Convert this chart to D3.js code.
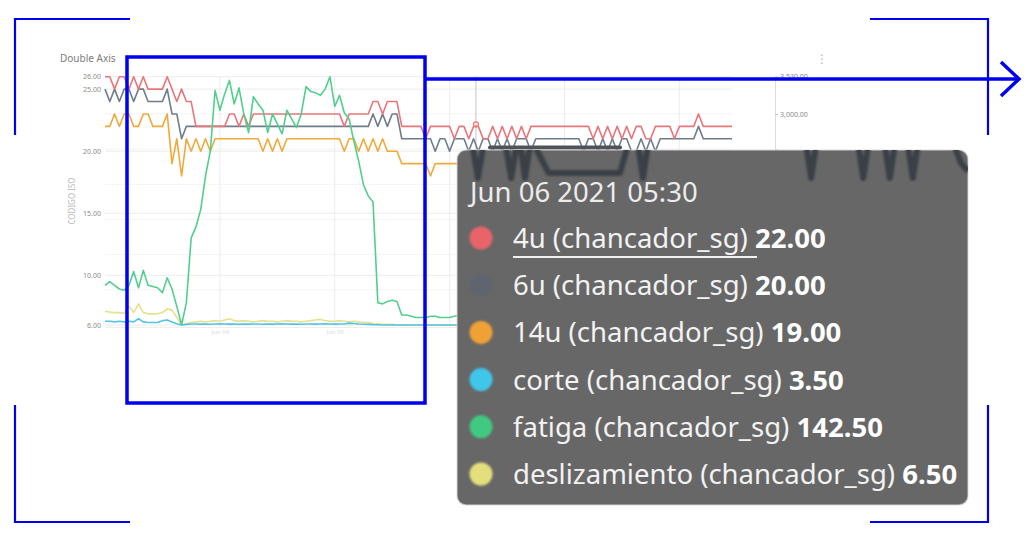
<!DOCTYPE html>
<html>
<head>
<meta charset="utf-8">
<script src="https://cdn.jsdelivr.net/npm/d3@7"></script>
<style>
  html, body { margin: 0; padding: 0; background: #fff; }
  svg { display: block; font-family: "Noto Sans", sans-serif; }
</style>
</head>
<body>
<svg id="chart" width="1024" height="537"></svg>
<script>
// ---- data (hourly samples from Jun 03 2021 00:00) ----
const startTime = new Date(2021, 5, 3, 0, 0);
const endTime   = new Date(2021, 5, 8, 11, 0);
const hoverTime = new Date(2021, 5, 6, 5, 30);

const leftTicks  = [6, 10, 15, 20, 25, 26];
const rightTicks = [0, 500, 1000, 1500, 2000, 2500, 3000, 3530];

const series4u = [
  26,26,25,26,26,25,26,25,26,25, 25,25,25,26,25,24,25,24,24,22,
  22,22,22,22,22,22,23,23,22,23, 22,23,23,23,23,23,23,23,23,23,
  23,23,23,23,23,23,23,23,23,23, 22,23,23,23,23,23,24,24,23,24,
  24,24,22,22,22,22,22,21,22,22, 22,22,22,21,22,22,21,22,22,21,
  21,22,21,22,21,22,21,22,21,22, 22,22,22,22,22,22,22,22,22,22,
  22,22,21,22,21,22,21,22,21,22, 21,22,22,21,21,22,22,22,22,21,
  22,22,22,22,23,22,22,22,22,22, 22,22
];
const series6u = [
  25,24,25,24,25,25,24,25,25,24, 24,24,24,25,23,23,21,22,22,22,
  22,22,22,22,22,22,22,22,22,22, 22,22,22,22,22,22,22,22,22,22,
  22,22,22,22,22,22,22,22,22,22, 22,22,22,22,22,22,23,22,23,22,
  23,23,21,21,21,21,21,21,21,20, 21,21,20,21,21,21,20,21,20,21,
  21,20,21,20,21,20,21,21,21,20, 21,21,21,21,21,21,21,21,21,21,
  20,21,21,20,21,20,21,20,21,21, 20,20,21,20,21,20,21,21,21,21,
  21,21,21,21,22,21,21,21,21,21, 21,21
];
const series14u = [
  22,22,23,22,23,23,22,22,23,23, 22,22,22,23,19,21,18,21,20,21,
  20,21,20,21,21,21,21,21,21,21, 21,21,21,20,21,20,21,20,21,21,
  21,21,21,21,21,21,21,21,21,21, 20,21,21,20,21,20,21,20,21,20,
  20,20,19,19,19,19,19,19,18,19, 19,19,19,19,19,19,19,19,19,19,
  19,19,19,19,19,19,19,19,19,19, 19,19,19,19,19,19,19,19,19,19,
  19,19,19,19,19,19,19,19,19,19, 19,19,19,19,19,19,19,19,19,19,
  19,19,19,19,19,19,19,19,19,19, 19,19
];
const seriesCorte = [
  6.3,6.3,6.25,6.3,6.25,6.3,6.25,6.5,6.25,6.2, 6.2,6.2,6.35,6.4,6.25,6.1,6.0,6.05,6.08,6.08,
  6.07,6.08,6.06,6.08,6.1,6.08,6.07,6.08,6.06,6.08, 6.07,6.08,6.08,6.06,6.08,6.07,6.08,6.1,6.08,6.07,
  6.08,6.06,6.08,6.08,6.07,6.08,6.1,6.08,6.07,6.08, 6.08,6.15,6.12,6.08,6.06,6.05,6.03,6.02,6.0,6.0,
  6.0,6.0,6.0,6.0,6.0,6.0,6.0,6.0,6.0,6.0, 6.0,6.0,6.0,6.0,6.0,6.0,6.0,6.0,6.0,6.0,
  6.0,6.0,6.0,6.0,6.0,6.0,6.0,6.0,6.0,6.0, 6.0,6.0,6.0,6.0,6.0,6.0,6.0,6.0,6.0,6.0,
  6.0,6.0,6.0,6.0,6.0,6.0,6.0,6.0,6.0,6.0, 6.0,6.0,6.0,6.0,6.0,6.0,6.0,6.0,6.0,6.0,
  6.0,6.0,6.0,6.0,6.0,6.0,6.0,6.0,6.0,6.0, 6.0,6.0
];
const seriesFatiga = [
  9.2,9.5,9.2,8.9,8.8,9.2,10.3,9.0,10.4,9.2, 9.1,9.0,8.6,9.8,8.9,7.5,6.0,7.8,13.0,13.9,
  15.3,18.0,20.0,24.9,23.3,24.6,25.7,23.8,25.1,23.0, 21.5,24.4,23.8,23.3,21.5,23.0,22.2,21.4,23.3,22.6,
  21.9,23.0,25.2,24.8,24.7,24.5,25.0,26.0,23.6,24.5, 23.1,22.6,20.8,19.2,17.3,16.4,15.9,7.8,7.7,7.9,
  8.0,7.9,6.8,6.8,6.7,6.6,6.6,6.6,6.7,6.7, 6.6,6.6,6.6,6.7,6.8,6.9,6.8,6.7,6.8,6.9,
  7.0,6.9,6.8,6.8,6.7,6.8,6.9,6.9,6.8,6.7, 6.7,6.8,6.8,6.9,7.0,6.9,6.8,6.8,6.7,6.7,
  6.8,6.9,6.9,6.8,6.7,6.7,6.8,6.9,7.0,6.9, 6.8,6.8,6.7,6.7,6.8,6.8,6.9,6.8,6.7,6.7,
  6.8,6.8,6.9,6.9,6.8,6.7,6.8,6.8,6.7,6.7, 6.8,6.8
];
const seriesDesliz = [
  7.1,7.05,7.0,7.0,6.95,7.5,7.0,7.7,7.0,6.9, 6.9,6.9,7.0,7.3,7.2,6.6,6.0,6.1,6.2,6.25,
  6.3,6.25,6.3,6.35,6.3,6.4,6.5,6.35,6.3,6.35, 6.3,6.25,6.3,6.35,6.3,6.3,6.25,6.3,6.35,6.3,
  6.3,6.25,6.3,6.35,6.4,6.45,6.35,6.3,6.3,6.35, 6.3,6.25,6.3,6.25,6.2,6.2,6.1,6.1,6.05,6.05,
  6.05,6.0,6.0,6.02,6.0,6.0,6.02,6.0,6.0,6.0, 6.0,6.02,6.0,6.0,6.0,6.02,6.0,6.0,6.0,6.0,
  6.02,6.0,6.0,6.0,6.0,6.02,6.0,6.0,6.0,6.0, 6.0,6.02,6.0,6.0,6.0,6.0,6.02,6.0,6.0,6.0,
  6.0,6.0,6.02,6.0,6.0,6.0,6.0,6.02,6.0,6.0, 6.0,6.0,6.0,6.02,6.0,6.0,6.0,6.0,6.02,6.0,
  6.0,6.0,6.0,6.0,6.02,6.0,6.0,6.0,6.0,6.0, 6.0,6.0
];

const seriesList = [
  { name: "deslizamiento", values: seriesDesliz, color: "#e4e28c" },
  { name: "corte",         values: seriesCorte,  color: "#52c4e6" },
  { name: "14u",           values: series14u,    color: "#f0aa3c" },
  { name: "6u",            values: series6u,     color: "#6f7c89" },
  { name: "4u",            values: series4u,     color: "#e8777b" },
  { name: "fatiga",        values: seriesFatiga, color: "#52cf8e" }
];

// tooltip content
const tooltipTitle  = "Jun 06 2021 05:30";
const tooltipLabels = ["4u (chancador_sg)", "6u (chancador_sg)", "14u (chancador_sg)",
                       "corte (chancador_sg)", "fatiga (chancador_sg)", "deslizamiento (chancador_sg)"];
const tooltipValues = [22.00, 20.00, 19.00, 3.50, 142.50, 6.50];
const tooltipColors = ["#e9646b", "#5a6072", "#f0a136", "#40c6ea", "#41c980", "#e2df7c"];

// dark magnified trace seen at the top of the tooltip: [position 0-100, level 0-1]
const ghostTrace = [
  [0,1],[3,1],[4.1,0],[5.2,1],[9.5,1],[10.6,0],[11.7,1],[12.4,1],[13.3,0],[14.3,1],
  [15,1],[17.9,0.15],[31.9,0.15],[33.5,1],[35.4,1],[36.4,0],[37.4,1],
  [68.3,1],[69.3,0],[70.3,1],[78.5,1],[79.5,0],[80.5,1],[83.7,1],[84.7,0],[85.7,1],
  [88.2,1],[89.2,0],[90.2,1],[97.2,1],[98.6,0.45],[100,0.2]
];

// ---- chart ----
const svg = d3.select("#chart");

const x = d3.scaleTime().domain([startTime, endTime]).range([105, 732]);
const yLeft  = d3.scaleLinear().domain([6, 26]).range([325, 76.7]);
const yRight = d3.scaleLinear().domain([0, 3530]).range([325, 76.7]);
const times = series4u.map((d, i) => d3.timeHour.offset(startTime, i));
const dayTicks = d3.timeDay.range(d3.timeDay.offset(startTime, 1), endTime);

const tip = { x: 457, y: 150, w: 511, h: 355 };

// title
svg.append("text")
  .attr("x", 60).attr("y", 62)
  .attr("font-size", 10).attr("fill", "#7d7d7d")
  .text("Double Axis");

// kebab menu
svg.append("text")
  .attr("x", 822).attr("y", 63)
  .attr("text-anchor", "middle")
  .attr("font-size", 12).attr("fill", "#b0b0b0")
  .attr("font-family", "DejaVu Sans")
  .text("\u22EE");

// grid
const grid = svg.append("g");
grid.selectAll("line.gl")
  .data(leftTicks)
  .join("line")
    .attr("class", "gl")
    .attr("x1", 105).attr("x2", 732)
    .attr("y1", d => yLeft(d)).attr("y2", d => yLeft(d))
    .attr("stroke", "#ececec");
grid.selectAll("line.gr")
  .data(rightTicks.filter(d => d > 0 && d < 3530))
  .join("line")
    .attr("class", "gr")
    .attr("x1", 105).attr("x2", 732)
    .attr("y1", d => yRight(d)).attr("y2", d => yRight(d))
    .attr("stroke", "#f4f4f4");
grid.selectAll("line.gv")
  .data(dayTicks)
  .join("line")
    .attr("class", "gv")
    .attr("x1", d => x(d)).attr("x2", d => x(d))
    .attr("y1", 76.7).attr("y2", 327)
    .attr("stroke", "#ececec");

// left axis
const leftAxis = svg.append("g")
  .attr("transform", "translate(104,0)")
  .call(d3.axisLeft(yLeft).tickValues(leftTicks).tickFormat(d3.format(",.2f")).tickSize(0).tickPadding(3));
leftAxis.select(".domain").remove();
leftAxis.selectAll("text").attr("font-size", 7).attr("fill", "#8a8a8a").attr("font-family", "Noto Sans");

svg.append("text")
  .attr("transform", "translate(75,201) rotate(-90)")
  .attr("text-anchor", "middle")
  .attr("font-size", 8).attr("fill", "#b8b8b8")
  .text("CODIGO ISO");

// right axis (labels hidden under the tooltip are not drawn)
const rightAxis = svg.append("g")
  .attr("transform", "translate(775,0)")
  .call(d3.axisRight(yRight).tickValues(rightTicks)
    .tickFormat(d => yRight(d) < tip.y - 20 ? d3.format(",.2f")(d) : "")
    .tickSize(3).tickPadding(2));
rightAxis.select(".domain").attr("stroke", "#dcdcdc");
rightAxis.selectAll(".tick line").attr("stroke", "#c8c8c8");
rightAxis.selectAll("text").attr("font-size", 7).attr("fill", "#8a8a8a").attr("font-family", "Noto Sans");

// bottom axis labels (faint), only where not covered by the tooltip
const bottomAxis = svg.append("g")
  .attr("transform", "translate(0,327)")
  .call(d3.axisBottom(x).tickValues(dayTicks.filter(d => x(d) < tip.x - 15))
    .tickFormat(d3.timeFormat("%b %d")).tickSize(0).tickPadding(3));
bottomAxis.select(".domain").attr("stroke", "#eeeeee");
bottomAxis.selectAll("text").attr("font-size", 6).attr("fill", "#dadada").attr("font-family", "Noto Sans");

// hover line
svg.append("line")
  .attr("x1", x(hoverTime)).attr("x2", x(hoverTime))
  .attr("y1", 76.7).attr("y2", 325)
  .attr("stroke", "#c4c4c4");

// series lines
const line = d3.line()
  .x((d, i) => x(times[i]))
  .y(d => yLeft(d));

svg.append("g")
  .selectAll("path")
  .data(seriesList)
  .join("path")
    .attr("d", d => line(d.values))
    .attr("fill", "none")
    .attr("stroke", d => d.color)
    .attr("stroke-width", 1.6)
    .attr("stroke-linejoin", "round");

// hover marker on 4u
svg.append("circle")
  .attr("cx", x(hoverTime)).attr("cy", yLeft(22) - 2)
  .attr("r", 2.5)
  .attr("fill", "none")
  .attr("stroke", "#e8777b")
  .attr("stroke-width", 1.2);

// ---- tooltip (enlarged) ----
svg.append("rect")
  .attr("x", 488).attr("y", 145.5)
  .attr("width", 134).attr("height", 4)
  .attr("rx", 2)
  .attr("fill", "#4f5256");

const defs = svg.append("defs");
defs.append("clipPath").attr("id", "tipClip")
  .append("rect")
    .attr("x", tip.x).attr("y", tip.y).attr("width", tip.w).attr("height", tip.h).attr("rx", 9);
defs.append("filter").attr("id", "soft")
  .append("feGaussianBlur").attr("stdDeviation", 0.9);

const tipG = svg.append("g");
tipG.append("rect")
  .attr("x", tip.x).attr("y", tip.y)
  .attr("width", tip.w).attr("height", tip.h)
  .attr("rx", 9)
  .attr("fill", "#676767")
  .attr("stroke", "#d8d8d8")
  .attr("stroke-opacity", 0.6)
  .attr("stroke-width", 1.5);

const inner = tipG.append("g").attr("clip-path", "url(#tipClip)");

const gx = d3.scaleLinear().domain([0, 100]).range([tip.x, tip.x + tip.w]);
const gy = d3.scaleLinear().domain([0, 1]).range([178, 144]);
inner.append("path")
  .attr("d", d3.line().x(d => gx(d[0])).y(d => gy(d[1]))(ghostTrace))
  .attr("fill", "none")
  .attr("stroke", "#3b3f46")
  .attr("stroke-width", 6)
  .attr("stroke-linejoin", "round")
  .attr("filter", "url(#soft)");

// brownish line crossing the tooltip
svg.append("line")
  .attr("x1", 451).attr("x2", tip.x + tip.w)
  .attr("y1", 233).attr("y2", 233)
  .attr("stroke", "#6d5c22")
  .attr("stroke-width", 4.5)
  .attr("filter", "url(#soft)");

tipG.append("text")
  .attr("x", 470).attr("y", 202)
  .attr("font-size", 27.5).attr("fill", "#ececec")
  .text(tooltipTitle);

const rowY = d3.scaleLinear().domain([0, 5]).range([238, 474]);
const rows = tipG.selectAll("g.row")
  .data(tooltipLabels)
  .join("g")
    .attr("class", "row")
    .attr("transform", (d, i) => `translate(0,${rowY(i)})`);

rows.append("circle")
  .attr("cx", 481).attr("cy", 0)
  .attr("r", 11.5)
  .attr("fill", (d, i) => tooltipColors[i])
  .attr("fill-opacity", (d, i) => i === 1 ? 0.55 : 1)
  .attr("filter", "url(#soft)");

const rowText = rows.append("text")
  .attr("x", 513).attr("y", 10)
  .attr("font-size", 27.5).attr("fill", "#f2f2f2");
rowText.append("tspan").text(d => d + " ");
rowText.append("tspan")
  .attr("font-weight", "bold")
  .attr("fill", "#ffffff")
  .text((d, i) => d3.format(".2f")(tooltipValues[i]));

// underline on first row
tipG.append("line")
  .attr("x1", 513).attr("x2", 757)
  .attr("y1", rowY(0) + 19).attr("y2", rowY(0) + 19)
  .attr("stroke", "#f0f0f0")
  .attr("stroke-width", 2);

// ---- blue annotation ----
const blue = "#0000f0";
const ann = svg.append("g").attr("fill", "none").attr("stroke", blue);

ann.append("rect")
  .attr("x", 127).attr("y", 57)
  .attr("width", 298).attr("height", 346)
  .attr("stroke-width", 3.5);

ann.append("line")
  .attr("x1", 425).attr("x2", 1019)
  .attr("y1", 79).attr("y2", 79)
  .attr("stroke-width", 3.5);
ann.append("path")
  .attr("d", "M1001,62 L1019,79 L1001,96")
  .attr("stroke-width", 3.5);

const brackets = [
  "M130,19 H15 V135",
  "M870,19 H988 V135",
  "M15,405 V522 H130",
  "M988,405 V522 H870"
];
ann.selectAll("path.br")
  .data(brackets)
  .join("path")
    .attr("class", "br")
    .attr("d", d => d)
    .attr("stroke-width", 2.2);
</script>
</body>
</html>
